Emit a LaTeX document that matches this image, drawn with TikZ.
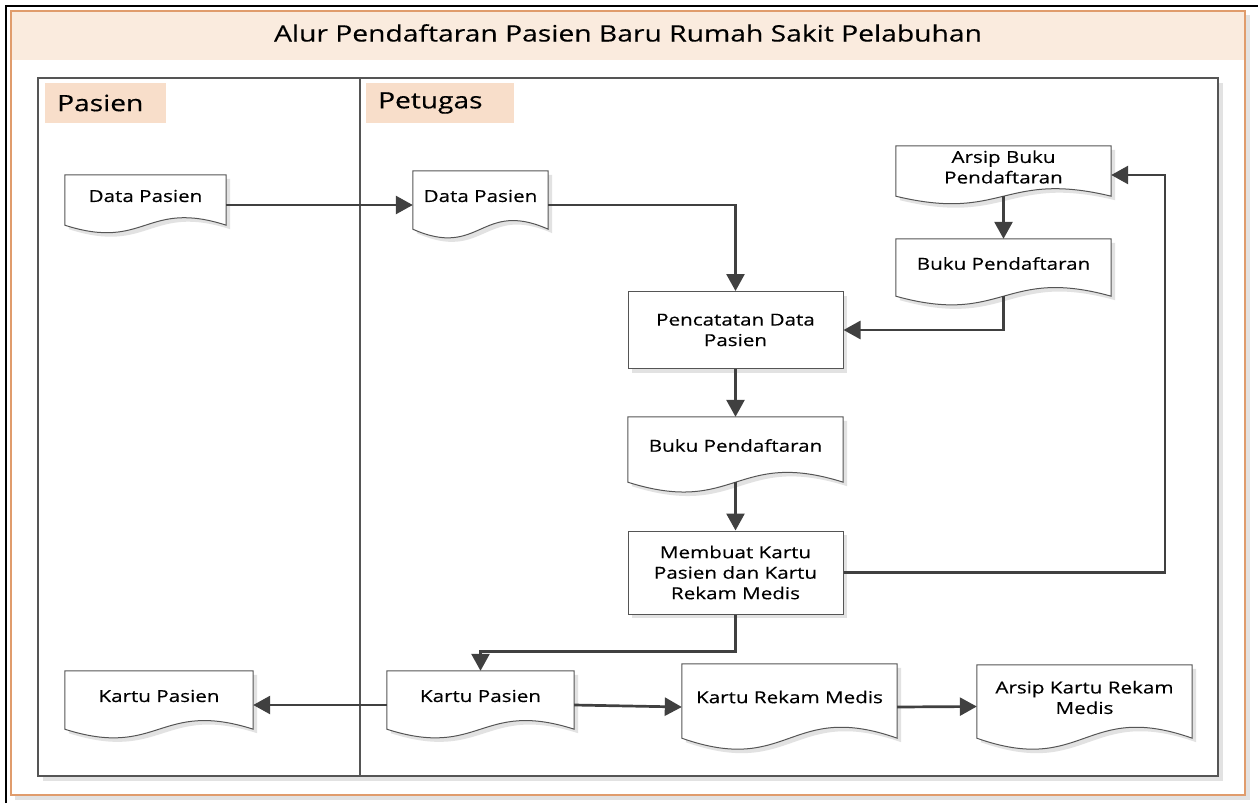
\documentclass[tikz,border=0pt]{standalone}
\usepackage{fontspec}
\setmainfont{Open Sans}[FakeStretch=1.25,FakeBold=0.35]
\usetikzlibrary{arrows.meta,shadows,calc,backgrounds}
\definecolor{pooledge}{RGB}{224,156,108}
\definecolor{titlefill}{RGB}{250,235,222}
\definecolor{headfill}{RGB}{248,222,202}
\definecolor{linec}{RGB}{85,85,85}
\definecolor{arrowc}{RGB}{64,64,64}
\definecolor{shadowc}{RGB}{226,226,226}
\newcommand\dgbody{\fontsize{16.5}{20.5}\selectfont}
\newcommand\dghead{\fontsize{22.5}{26}\selectfont}
\newcommand\dgtitle{\fontsize{22.6}{26}\selectfont}
% document shape drawn behind the node #1, wave control #2
\newcommand\docshape[2]{%
  \begin{scope}[on background layer]
    \fill[shadowc] ([shift={(4,4)}]#1.south west) -- ([shift={(4,4)}]#1.north west)
      -- ([shift={(4,4)}]#1.north east) -- ([shift={(4,4)}]#1.south east)
      .. controls ($(#1.south)+(4,4-#2)$) and ($(#1.south)+(4,4+#2)$) .. ([shift={(4,4)}]#1.south west) -- cycle;
    \filldraw[docline] (#1.south west) -- (#1.north west) -- (#1.north east) -- (#1.south east)
      .. controls ($(#1.south)+(0,-#2)$) and ($(#1.south)+(0,#2)$) .. (#1.south west) -- cycle;
  \end{scope}}
\begin{document}
\begin{tikzpicture}[x=1pt,y=-1pt,
  docline/.style={fill=white, draw=linec, line width=1pt},
  docbox/.style={shape=rectangle, inner sep=0pt},
  doctext/.style={align=center, font=\dgbody, yshift=4pt, anchor=center},
  process/.style={shape=rectangle, draw=linec, line width=1pt, fill=white, align=center,
    font=\dgbody, inner sep=0pt,
    drop shadow={shadow xshift=4pt, shadow yshift=-4pt, fill=shadowc, opacity=1}},
  lanehead/.style={shape=rectangle, fill=headfill, inner xsep=12pt, inner ysep=0pt,
    minimum height=40pt, align=left, font=\dghead, anchor=west},
  flow/.style={draw=arrowc, line width=2.7pt, -{Triangle[length=17pt,width=18pt]}}]
\useasboundingbox (0,0) rectangle (1258,803);

% outer frame (clipped) and pool
\begin{scope}[on background layer]
  \draw[line width=2pt, black] (6,803) -- (6,6) -- (1258,6);
  \fill[shadowc] (15,15) rectangle (1250,800);
  \fill[white] (11,11) rectangle (1245,795);
  \fill[titlefill] (11,11) rectangle (1245,60);
  \draw[pooledge, line width=1.2pt] (11,11) rectangle (1245,795);
  % lanes
  \fill[shadowc] (43,83) rectangle (1223,781);
  \fill[white] (38,78) rectangle (1218,776);
  \draw[linec, line width=1.2pt] (38,78) rectangle (1218,776);
  \draw[linec, line width=1.2pt] (360,78) -- (360,776);
\end{scope}

\node[font=\dgtitle, anchor=base] (title) at (628,41.5) {Alur Pendaftaran Pasien Baru Rumah Sakit Pelabuhan};
\node[lanehead, text width=97pt] (hpas) at (45,103) {Pasien};
\node[lanehead, text width=124pt] (hpet) at (366,103) {Petugas};

% documents
\node[docbox, minimum width=161pt, minimum height=50pt, label={[doctext]center:Data Pasien}] (d1) at (145.5,200) {};
\node[docbox, minimum width=135pt, minimum height=58pt, label={[doctext]center:Data Pasien}] (d2) at (480.5,200) {};
\node[docbox, minimum width=215pt, minimum height=50pt, label={[doctext]center:Arsip Buku\\Pendaftaran}] (d3) at (1003.5,171) {};
\node[docbox, minimum width=215pt, minimum height=57pt, label={[doctext]center:Buku Pendaftaran}] (d4) at (1003.5,267.5) {};
\node[docbox, minimum width=215pt, minimum height=65pt, label={[doctext]center:Buku Pendaftaran}] (d5) at (735.5,449.5) {};
\node[docbox, minimum width=187pt, minimum height=58pt, label={[doctext]center:Kartu Pasien}] (d6) at (480.5,700) {};
\node[docbox, minimum width=215pt, minimum height=74pt, label={[doctext]center:Kartu Rekam Medis}] (d7) at (789.5,701) {};
\node[docbox, minimum width=215pt, minimum height=73pt, label={[doctext]center:Arsip Kartu Rekam\\Medis}] (d8) at (1084.5,701.5) {};
\node[docbox, minimum width=188pt, minimum height=58pt, label={[doctext]center:Kartu Pasien}] (d9) at (159,700) {};
\docshape{d1}{26}
\docshape{d2}{30}
\docshape{d3}{26}
\docshape{d4}{30}
\docshape{d5}{34}
\docshape{d6}{30}
\docshape{d7}{38}
\docshape{d8}{38}
\docshape{d9}{30}

% processes
\node[process, minimum width=215pt, minimum height=77pt] (p1) at (735.5,330) {Pencatatan Data\\Pasien};
\node[process, minimum width=215pt, minimum height=83pt] (p2) at (735.5,572.5) {Membuat Kartu\\Pasien dan Kartu\\Rekam Medis};

\coordinate (gx) at (1165,0);

% connectors
\draw[flow] ([yshift=-5pt]d1.east) -- ([yshift=-5pt]d2.west);
\draw[flow] ([yshift=-5pt]d2.east) -| (p1.north);
\draw[flow] (d3.south) -- (d4.north);
\draw[flow] (d4.south) |- (p1.east);
\draw[flow] (p1.south) -- (d5.north);
\draw[flow] (d5.south) -- (p2.north);
\draw[flow] (p2.east) -| ($(gx |- d3.east)+(0,4)$) -- ([yshift=-4pt]d3.east);
\draw[flow] (p2.south) -- ++(0,37) -| (d6.north);
\draw[flow] ([yshift=-5pt]d6.west) -- ([yshift=-5pt]d9.east);
\draw[flow] ([yshift=-5pt]d6.east) -- ([yshift=-6pt]d7.west);
\draw[flow] ([yshift=-6pt]d7.east) -- ([yshift=-5pt]d8.west);
\end{tikzpicture}
\end{document}
